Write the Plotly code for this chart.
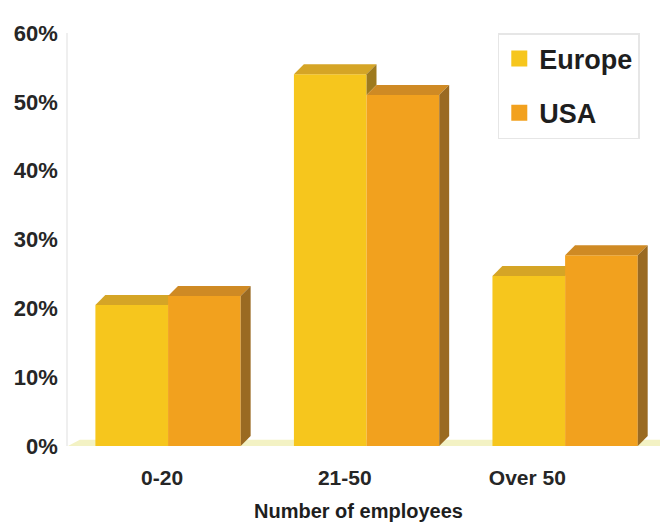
import plotly.graph_objects as go

# Share of companies by size class
categories = ["0-20", "21-50", "Over 50"]
europe = [20.5, 54, 24.7]
usa = [21.8, 51, 27.7]
y_ticks = [0, 10, 20, 30, 40, 50, 60]
y_tick_labels = ["0%", "10%", "20%", "30%", "40%", "50%", "60%"]

series = [
    ("Europe", europe, {"front": "#F6C61D", "top": "#D5A526", "side": "#9E7A1E"}),
    ("USA", usa, {"front": "#F2A11E", "top": "#CF8A24", "side": "#9A6A22"}),
]

BAR_W = 0.366          # width of one front face, in category units
DX = 0.05              # depth offset of the extruded faces (x units)
DY = 1.45              # depth offset of the extruded faces (y units)
LABEL_SCALE = 0.92     # tick labels sit on the perspective floor line
LABEL_SHIFT = -0.03

fig = go.Figure()


def poly(xs, ys, color):
    fig.add_trace(go.Scatter(
        x=xs + [xs[0]], y=ys + [ys[0]], mode="lines", fill="toself",
        fillcolor=color, line=dict(width=0, color=color),
        hoverinfo="skip", showlegend=False,
    ))


# Floor strip
fig.add_shape(type="path", xref="paper", yref="y",
              path="M 0,0 L 1,0 L 1,0.9 L 0.02,0.9 Z",
              fillcolor="#F3F2C4", line=dict(width=0), layer="below")
fig.add_shape(type="line", xref="paper", yref="y", x0=0, x1=1, y0=-0.35, y1=-0.35,
              line=dict(color="#E2E6C0", width=1.5), layer="below")

for i, _ in enumerate(categories):
    for s, (name, vals, col) in enumerate(series):
        v = vals[i]
        x0 = i - BAR_W if s == 0 else i
        x1 = x0 + BAR_W
        # front face
        poly([x0, x1, x1, x0], [0, 0, v, v], col["front"])
        # top face
        poly([x0, x1, x1 + DX, x0 + DX], [v, v, v + DY, v + DY], col["top"])
        # right side face; the left bar's side is only visible above its neighbour
        if s == 0:
            other = series[1][1][i]
            if other < v:
                poly([x1, x1, x1 + DX, x1 + DX], [other, v, v + DY, other + DY], col["side"])
        else:
            poly([x1, x1, x1 + DX, x1 + DX], [0, v, v + DY, DY], col["side"])

# Legend entries
for name, vals, col in series:
    fig.add_trace(go.Scatter(
        x=[None], y=[None], mode="markers", name="<b>%s</b>" % name, legendgroup=name,
        marker=dict(symbol="square", size=18, color=col["front"]),
    ))

fig.update_layout(
    width=666, height=528,
    margin=dict(l=68, r=6, t=33, b=82),
    paper_bgcolor="white", plot_bgcolor="white",
    font=dict(family="Arial, Liberation Sans, sans-serif", color="#2a2a2a"),
    showlegend=True,
    legend=dict(
        x=0.726, y=1.0, xanchor="left", yanchor="top",
        bgcolor="white", bordercolor="#E6E6E6", borderwidth=1.5,
        font=dict(size=27, family="Arial, Liberation Sans, sans-serif", color="#1e1e1e"),
        tracegroupgap=16, itemwidth=30,
    ),
    xaxis=dict(
        range=[-0.504, 2.478],
        tickvals=[i * LABEL_SCALE + LABEL_SHIFT for i in range(len(categories))],
        ticktext=["<b>%s</b>" % c for c in categories],
        tickfont=dict(size=21, color="#262626"),
        ticks="outside", ticklen=13, tickcolor="rgba(0,0,0,0)",
        showgrid=False, zeroline=False, showline=False,
    ),
    yaxis=dict(
        range=[0, 60],
        tickvals=y_ticks,
        ticktext=["<b>%s</b>" % t for t in y_tick_labels],
        tickfont=dict(size=22, color="#262626"),
        ticks="outside", ticklen=4, tickcolor="rgba(0,0,0,0)",
        showgrid=False, zeroline=False,
        showline=True, linecolor="#EFEFEF", linewidth=1.5,
    ),
    annotations=[dict(
        text="<b>Number of employees</b>", xref="paper", yref="paper",
        x=0.49, y=-0.157, xanchor="center", yanchor="middle", showarrow=False,
        font=dict(size=20, family="Arial, Liberation Sans, sans-serif", color="#1e1e1e"),
    )],
)

fig.write_html("out.html")
